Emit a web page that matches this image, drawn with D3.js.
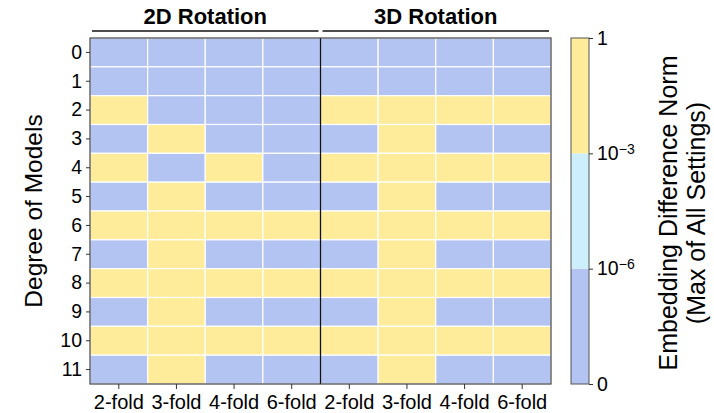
<!DOCTYPE html>
<html>
<head>
<meta charset="utf-8">
<script src="https://cdn.jsdelivr.net/npm/d3@7"></script>
<style>
  body { margin: 0; background: #fff; }
  svg text { font-family: "Liberation Sans", Arial, sans-serif; fill: #000; }
  .axis path { display: none; }
  .axis line { stroke: #333; }
</style>
</head>
<body>
<div id="chart"></div>
<script>
// degrees of the models (rows) and symmetry settings (columns)
var degrees = ["0","1","2","3","4","5","6","7","8","9","10","11"];
var folds = ["2-fold","3-fold","4-fold","6-fold"];
var groups = ["2D Rotation","3D Rotation"];

// embedding difference norm per cell, 0 = no difference, 1 = large difference
var rot2D = [
  [0,0,0,0],
  [0,0,0,0],
  [1,0,0,0],
  [0,1,0,0],
  [1,0,1,0],
  [0,1,0,0],
  [1,1,1,1],
  [0,1,0,0],
  [1,1,1,1],
  [0,1,0,0],
  [1,1,1,1],
  [0,1,0,0]
];
var rot3D = [
  [0,0,0,0],
  [0,0,0,0],
  [1,1,1,1],
  [0,1,0,0],
  [1,1,1,1],
  [0,1,0,0],
  [1,1,1,1],
  [0,1,0,0],
  [1,1,1,1],
  [0,1,0,0],
  [1,1,1,1],
  [0,1,0,0]
];

// colorbar bins
var binEdges = [1e-6, 1e-3];
var binColors = ["#b3c3f2", "#cdeefb", "#feec9a"];
var cbarTicks = ["0", "10^\u22126", "10^\u22123", "1"];

var width = 714, height = 413;
var margin = {top: 38, right: 163, bottom: 29, left: 90};
var w = width - margin.left - margin.right,
    h = height - margin.top - margin.bottom;

var cells = [];
[rot2D, rot3D].forEach(function(grid, gi) {
  grid.forEach(function(row, ri) {
    row.forEach(function(v, fi) {
      cells.push({col: groups[gi] + "|" + folds[fi], group: groups[gi], fold: folds[fi], degree: degrees[ri], value: v});
    });
  });
});

var columns = [];
groups.forEach(function(g) { folds.forEach(function(f) { columns.push(g + "|" + f); }); });

var xScale = d3.scaleBand().domain(columns).range([0, w]);
var yScale = d3.scaleBand().domain(degrees).range([0, h]);
var color = d3.scaleThreshold().domain(binEdges).range(binColors);

var svg = d3.select("#chart").append("svg")
    .attr("width", width)
    .attr("height", height);

var g = svg.append("g")
    .attr("transform", "translate(" + margin.left + "," + margin.top + ")");

// heatmap cells
g.selectAll("rect.cell")
    .data(cells)
  .enter().append("rect")
    .attr("class", "cell")
    .attr("x", function(d) { return xScale(d.col); })
    .attr("y", function(d) { return yScale(d.degree); })
    .attr("width", xScale.bandwidth())
    .attr("height", yScale.bandwidth())
    .attr("fill", function(d) { return color(d.value); })
    .attr("stroke", "#fff")
    .attr("stroke-width", 1.2);

// separator between the two groups
g.append("line")
    .attr("x1", xScale(groups[1] + "|" + folds[0]))
    .attr("x2", xScale(groups[1] + "|" + folds[0]))
    .attr("y1", 0)
    .attr("y2", h)
    .attr("stroke", "#111")
    .attr("stroke-width", 1.3);

// frame
g.append("rect")
    .attr("width", w)
    .attr("height", h)
    .attr("fill", "none")
    .attr("stroke", "#444")
    .attr("stroke-width", 1.2);

// axes
var yAxis = d3.axisLeft(yScale).tickSize(4).tickPadding(4);
var xAxis = d3.axisBottom(xScale).tickSize(5).tickPadding(6)
    .tickFormat(function(d) { return d.split("|")[1]; });

g.append("g")
    .attr("class", "y axis")
    .call(yAxis)
    .selectAll("text")
    .style("font-size", "19.5px");

g.append("g")
    .attr("class", "x axis")
    .attr("transform", "translate(0," + h + ")")
    .call(xAxis)
    .selectAll("text")
    .style("font-size", "20px");

g.selectAll(".axis text").attr("fill", "#000");

// y title
svg.append("text")
    .attr("transform", "translate(42," + (margin.top + h / 2) + ") rotate(-90)")
    .attr("text-anchor", "middle")
    .style("font-size", "24.5px")
    .text("Degree of Models");

// group headers
groups.forEach(function(grp) {
  var x0 = xScale(grp + "|" + folds[0]);
  var x1 = xScale(grp + "|" + folds[folds.length - 1]) + xScale.bandwidth();
  g.append("line")
      .attr("x1", x0 + 2)
      .attr("x2", x1 - 2)
      .attr("y1", -7)
      .attr("y2", -7)
      .attr("stroke", "#111")
      .attr("stroke-width", 1.6);
  g.append("text")
      .attr("x", (x0 + x1) / 2)
      .attr("y", -14)
      .attr("text-anchor", "middle")
      .style("font-size", "22px")
      .style("font-weight", "bold")
      .text(grp);
});

// colorbar
var cbX = 571, cbW = 18;
var cbScale = d3.scaleBand().domain(d3.range(binColors.length)).range([margin.top + h, margin.top]);
var cb = svg.append("g");
cb.selectAll("rect")
    .data(binColors)
  .enter().append("rect")
    .attr("x", cbX)
    .attr("y", function(d, i) { return cbScale(i); })
    .attr("width", cbW)
    .attr("height", cbScale.bandwidth())
    .attr("fill", function(d) { return d; });
cb.append("rect")
    .attr("x", cbX)
    .attr("y", margin.top)
    .attr("width", cbW)
    .attr("height", h)
    .attr("fill", "none")
    .attr("stroke", "#555")
    .attr("stroke-width", 1);

var cbTickScale = d3.scalePoint().domain(cbarTicks).range([margin.top + h, margin.top]);
var cbAxis = d3.axisRight(cbTickScale).tickSize(4).tickPadding(4).tickFormat("");
var cbG = cb.append("g")
    .attr("class", "axis")
    .attr("transform", "translate(" + (cbX + cbW) + ",0)")
    .call(cbAxis);

// labels with superscript exponents
cbG.selectAll(".tick text").each(function(d) {
  var t = d3.select(this).style("font-size", "19.5px").attr("fill", "#000");
  var parts = d.split("^");
  t.append("tspan").text(parts[0]);
  if (parts.length > 1) {
    t.append("tspan")
        .attr("dy", "-0.45em")
        .style("font-size", "14px")
        .text(parts[1]);
  }
});

// colorbar title
var cbTitle = svg.append("text")
    .attr("transform", "translate(677," + 213 + ") rotate(-90)")
    .attr("text-anchor", "middle")
    .style("font-size", "25px");
cbTitle.append("tspan").attr("x", 0).attr("dy", 0).text("Embedding Difference Norm");
cbTitle.append("tspan").attr("x", 0).attr("dy", 28).text("(Max of All Settings)");
</script>
</body>
</html>
